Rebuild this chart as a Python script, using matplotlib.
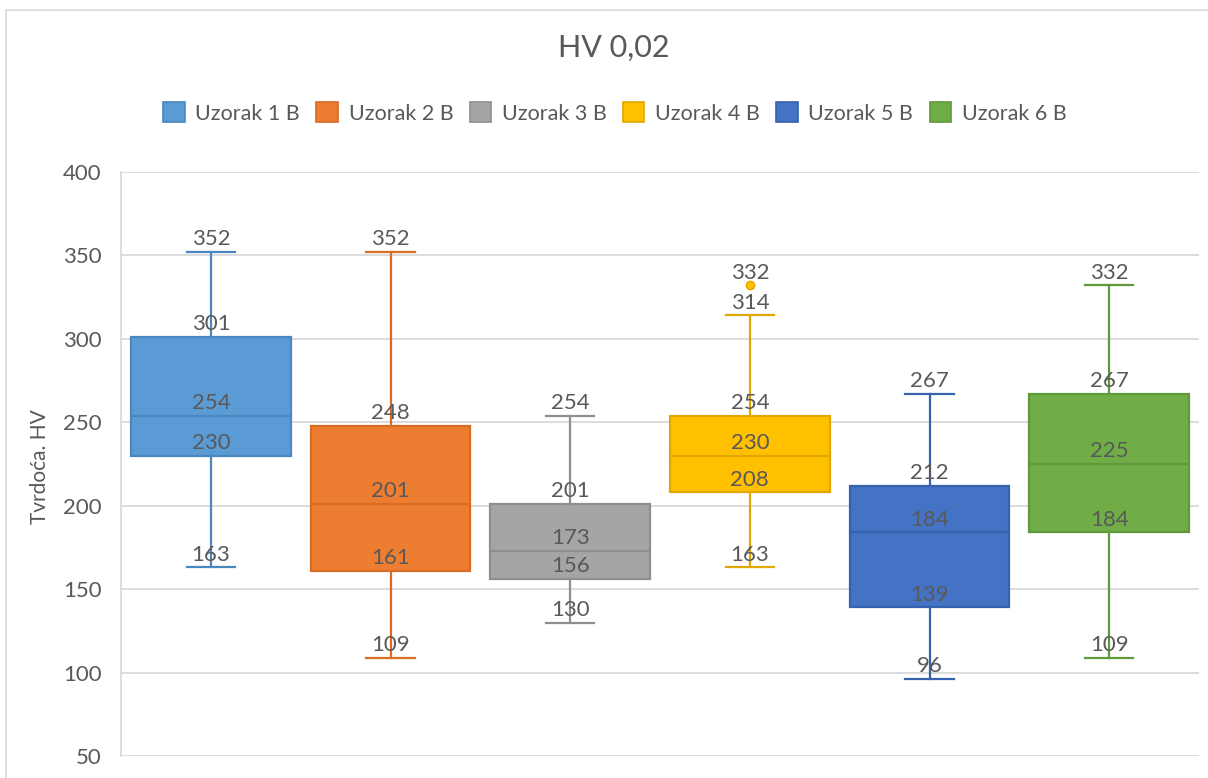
import matplotlib.pyplot as plt
from matplotlib.patches import Patch, Rectangle

# Box-and-whisker statistics
samples = ['Uzorak 1 B', 'Uzorak 2 B', 'Uzorak 3 B', 'Uzorak 4 B', 'Uzorak 5 B', 'Uzorak 6 B']
mins = [163, 109, 130, 163, 96, 109]
q1s = [230, 161, 156, 208, 139, 184]
medians = [254, 201, 173, 230, 184, 225]
q3s = [301, 248, 201, 254, 212, 267]
maxs = [352, 352, 254, 314, 267, 332]
outliers = [[], [], [], [332], [], []]

fill_colors = ['#5B9BD5', '#ED7D31', '#A5A5A5', '#FFC000', '#4472C4', '#70AD47']
edge_colors = ['#4A86BF', '#D86C22', '#8F8F8F', '#E0A800', '#3561AE', '#5E9A3A']
text_col = '#595959'
grid_col = '#D9D9D9'

plt.rcParams['font.family'] = ['Lato', 'DejaVu Sans']

fig = plt.figure(figsize=(12.08, 7.78), dpi=100)
ax = fig.add_axes([121 / 1208, 1 - 756 / 778, (1199 - 121) / 1208, (756 - 172) / 778])

# outer chart border
fig.patches.append(Rectangle((6 / 1208, -0.01), 1.05, 1 - 10 / 778 + 0.01,
                             transform=fig.transFigure, fill=False,
                             edgecolor=grid_col, linewidth=1.2))

stats = []
for i in range(len(samples)):
    stats.append(dict(whislo=mins[i], q1=q1s[i], med=medians[i], q3=q3s[i],
                      whishi=maxs[i], fliers=outliers[i], label=samples[i]))

positions = [i + 0.5 for i in range(len(samples))]
for i, st in enumerate(stats):
    ec = edge_colors[i]
    ax.bxp([st], positions=[positions[i]], widths=0.89, capwidths=0.27,
           patch_artist=True, showfliers=True,
           boxprops=dict(facecolor=fill_colors[i], edgecolor=ec, linewidth=1.6),
           medianprops=dict(color=ec, linewidth=1.6),
           whiskerprops=dict(color=ec, linewidth=1.6),
           capprops=dict(color=ec, linewidth=1.6),
           flierprops=dict(marker='o', markersize=6, markerfacecolor=fill_colors[i],
                           markeredgecolor=ec))
    vals = [mins[i], q1s[i], medians[i], q3s[i], maxs[i]] + outliers[i]
    for v in vals:
        ax.annotate(str(v), (positions[i], v), xytext=(0, 2), textcoords='offset points',
                    ha='center', va='bottom', fontsize=16, color=text_col)

ax.set_xlim(0, 6)
ax.set_ylim(50, 400)
ax.set_yticks(range(50, 401, 50))
ax.set_xticks([])
ax.grid(axis='y', color=grid_col, linewidth=1.3)
ax.set_axisbelow(True)
for s in ['top', 'right', 'bottom']:
    ax.spines[s].set_visible(False)
ax.spines['left'].set_color(grid_col)
ax.spines['left'].set_linewidth(1.3)
ax.tick_params(axis='y', length=0, pad=14, labelsize=16, labelcolor=text_col)
ax.set_ylabel('Tvrdoća. HV', fontsize=15, color=text_col)
ax.yaxis.set_label_coords(-0.066, 0.495)

fig.text(0.508, 1 - 48 / 778, 'HV 0,02', ha='center', va='center', fontsize=22, color=text_col)

handles = [Patch(facecolor=fill_colors[i], edgecolor=edge_colors[i], linewidth=1.2, label=samples[i])
           for i in range(len(samples))]
fig.legend(handles=handles, loc='center', bbox_to_anchor=(0.509, 1 - 113 / 778), ncol=6,
           frameon=False, fontsize=15.5, labelcolor=text_col, handlelength=1.0,
           handleheight=1.0, handletextpad=0.5, columnspacing=0.75)

fig.savefig('out.png', dpi=100)
